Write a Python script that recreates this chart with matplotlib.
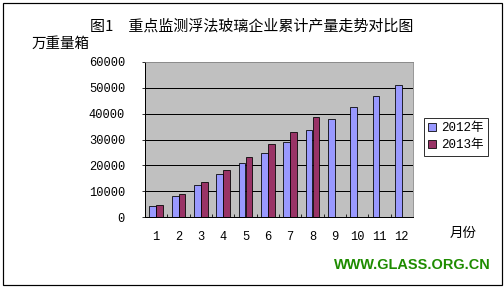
import numpy as np
import matplotlib
matplotlib.use("Agg")
import matplotlib.pyplot as plt
from matplotlib.patches import Rectangle

plt.rcParams['font.family'] = ['Noto Sans CJK SC', 'DejaVu Sans']

months = ['1', '2', '3', '4', '5', '6', '7', '8', '9', '10', '11', '12']
y2012 = [4100, 8300, 12500, 16800, 21000, 24900, 29200, 33800, 38100, 42700, 47000, 51200]
y2013 = [4500, 9000, 13700, 18300, 23400, 28400, 33000, 38800]
yticks = [0, 10000, 20000, 30000, 40000, 50000, 60000]

num_font = ['Liberation Mono', 'Noto Sans CJK SC']

fig = plt.figure(figsize=(7, 4), dpi=72)
ax = fig.add_axes([145/504, 1-217/288, 268/504, 155/288])

x = np.arange(1, 13)
x13 = np.arange(1, len(y2013)+1)
w = 0.3
b1 = ax.bar(x - w/2, y2012, w, color='#9999FF', edgecolor='black', linewidth=0.8, label='2012年', zorder=3)
b2 = ax.bar(x13 + w/2, y2013, w, color='#993366', edgecolor='black', linewidth=0.8, label='2013年', zorder=3)

ax.set_facecolor('#C0C0C0')
ax.set_xlim(0.5, 12.5)
ax.set_ylim(0, 60000)
ax.set_yticks(yticks)
ax.set_yticklabels([str(v) for v in yticks], family=num_font, fontsize=12)
ax.set_xticks(x)
ax.set_xticklabels(months, family=num_font, fontsize=12)
ax.set_xticks(np.arange(1.5, 12.5, 1), minor=True)
ax.tick_params(axis='x', which='major', length=0, pad=14)
ax.tick_params(axis='x', which='minor', direction='in', length=3, width=0.8)
ax.tick_params(axis='y', which='major', direction='out', length=3, width=0.8, pad=17)
for v in yticks[1:-1]:
    ax.axhline(v, color='black', linewidth=1, zorder=1)
for s in ['top', 'right']:
    ax.spines[s].set_color('#808080')
for s in ['left', 'bottom']:
    ax.spines[s].set_color('black')
    ax.spines[s].set_linewidth(1)

leg = fig.legend(handles=[b1, b2], loc='upper left', bbox_to_anchor=(424/504, 1-118/288),
                 prop={'family': num_font, 'size': 12.5}, frameon=True, fancybox=False,
                 edgecolor='black', borderpad=0.35, labelspacing=0.4, handlelength=0.6,
                 handleheight=0.6, handletextpad=0.4, borderaxespad=0)
leg.get_frame().set_linewidth(1)

fig.text(252/504, 1-26/288, '图1　重点监测浮法玻璃企业累计产量走势对比图', ha='center', va='center', fontsize=15)
fig.text(32/504, 1-44/288, '万重量箱', ha='left', va='center', fontsize=14.5)
fig.text(463/504, 1-233/288, '月份', ha='center', va='center', fontsize=13.5)
fig.text(412/504, 1-265/288, 'WWW.GLASS.ORG.CN', ha='center', va='center', fontsize=14.5,
         family='Liberation Sans', weight='bold', color='#1E8C00')

fig.patches.append(Rectangle((3/504, 3/288), 499/504, 282/288, transform=fig.transFigure,
                             fill=False, edgecolor='black', linewidth=1.2))

fig.savefig('out.png', dpi=72)
